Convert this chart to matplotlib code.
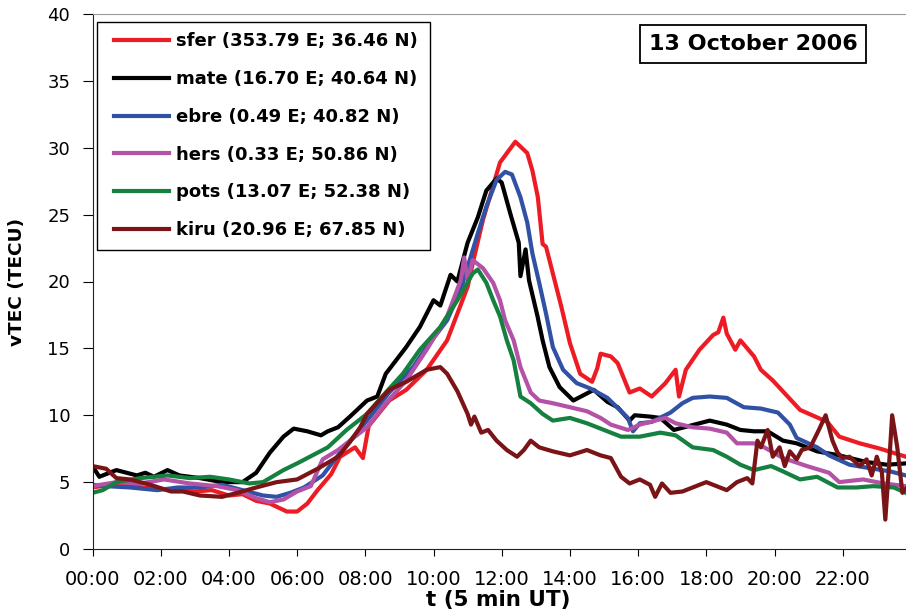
import numpy as np
import matplotlib
matplotlib.use('Agg')
import matplotlib.pyplot as plt
from matplotlib.patches import Rectangle

plt.rcParams['font.family'] = ['DejaVu Sans']

# time in hours UT, vTEC in TECU
sfer_t = [0, 0.5, 1, 1.5, 2, 2.5, 3, 3.5, 4, 4.4, 4.8, 5.2, 5.7, 6.0, 6.3, 6.6, 7.0, 7.26, 7.7, 7.93,
          8.1, 8.7, 9.2, 9.8, 10.4, 11.0, 11.2, 11.45, 11.95, 12.4, 12.75, 12.9, 13.06, 13.2, 13.3, 13.5,
          13.75, 14.0, 14.3, 14.65, 14.8, 14.9, 15.2, 15.4, 15.75, 16.05, 16.4, 16.8, 17.1, 17.2, 17.4,
          17.8, 18.2, 18.35, 18.5, 18.6, 18.85, 19.0, 19.4, 19.6, 19.95, 20.75, 21.55, 21.9, 22.5, 23.1, 23.85]
sfer = [4.6, 4.8, 4.7, 4.6, 4.5, 4.4, 4.3, 4.4, 4.0, 4.1, 3.6, 3.4, 2.8, 2.8, 3.4, 4.4, 5.6, 6.9, 7.6, 6.8,
        9.2, 11.1, 11.9, 13.4, 15.6, 19.6, 21.9, 24.6, 28.9, 30.45, 29.6, 28.3, 26.3, 22.8, 22.6, 20.6,
        18.1, 15.4, 13.1, 12.5, 13.5, 14.6, 14.4, 13.9, 11.7, 12.0, 11.4, 12.4, 13.4, 11.4, 13.4,
        14.9, 16.0, 16.2, 17.3, 16.1, 14.9, 15.6, 14.4, 13.4, 12.6, 10.4, 9.5, 8.4, 7.9, 7.5, 6.9]

mate_t = [0, 0.2, 0.7, 1.3, 1.55, 1.8, 2.2, 2.55, 3.15, 3.8, 4.4, 4.8, 5.2, 5.6, 5.9, 6.3, 6.7, 6.9, 7.2,
          7.55, 8.05, 8.35, 8.6, 9.2, 9.6, 9.9, 10.0, 10.2, 10.5, 10.7, 11.0, 11.3, 11.55, 11.85, 12.0,
          12.25, 12.5, 12.55, 12.7, 12.8, 13.05, 13.2, 13.4, 13.7, 14.1, 14.4, 14.7, 15.1, 15.4, 15.75,
          15.9, 16.35, 16.65, 17.05, 17.5, 18.1, 18.6, 19.0, 19.4, 19.8, 20.25, 20.65, 21.25, 21.9, 22.7,
          23.3, 23.85]
mate = [6.2, 5.4, 5.9, 5.5, 5.7, 5.4, 5.9, 5.5, 5.3, 5.0, 5.0, 5.7, 7.2, 8.4, 9.0, 8.8, 8.5, 8.8, 9.1,
        9.9, 11.1, 11.4, 13.1, 15.1, 16.6, 18.1, 18.6, 18.2, 20.5, 20.0, 22.9, 24.8, 26.8, 27.7, 27.4,
        25.1, 22.9, 20.4, 22.4, 20.1, 17.4, 15.6, 13.6, 12.1, 11.1, 11.5, 11.9, 11.0, 10.6, 9.6,
        10.0, 9.9, 9.8, 8.9, 9.2, 9.6, 9.3, 8.9, 8.8, 8.8, 8.1, 7.9, 7.3, 7.0, 6.5,
        6.3, 6.4]

ebre_t = [0, 0.4, 1.1, 1.9, 2.5, 3.15, 3.8, 4.4, 5.0, 5.4, 5.8, 6.2, 6.75, 7.26, 8.05, 8.7, 9.4, 9.8,
          10.4, 10.8, 11.3, 11.55, 11.85, 12.1, 12.3, 12.55, 12.75, 12.9, 13.1, 13.3, 13.5, 13.8, 14.2,
          14.6, 15.1, 15.5, 15.7, 15.85, 16.05, 16.4, 16.95, 17.3, 17.6, 18.1, 18.6, 19.1, 19.6, 20.1,
          20.45, 20.65, 21.25, 21.6, 22.2, 22.9, 23.4, 23.85]
ebre = [4.8, 4.7, 4.6, 4.4, 4.6, 4.6, 4.8, 4.4, 4.0, 3.9, 4.2, 4.6, 5.5, 7.2, 9.6, 11.7, 13.6, 15.1,
        17.1, 19.4, 23.6, 25.6, 27.6, 28.2, 28.0, 26.3, 24.4, 22.1, 19.9, 17.6, 15.1, 13.4, 12.4,
        12.0, 11.3, 10.3, 9.8, 8.8, 9.4, 9.5, 10.2, 10.9, 11.3, 11.4, 11.3, 10.6, 10.5, 10.2,
        9.3, 8.3, 7.6, 7.0, 6.3, 6.0, 5.8, 5.5]

hers_t = [0, 0.7, 1.4, 2.1, 2.85, 3.65, 4.25, 4.8, 5.2, 5.6, 6.0, 6.4, 6.75, 7.2, 7.55, 8.05, 8.6, 9.2,
          9.8, 10.4, 10.8, 10.9, 11.0, 11.15, 11.45, 11.75, 11.95, 12.1, 12.35, 12.55, 12.85, 13.1, 13.5,
          14.0, 14.5, 14.9, 15.2, 15.7, 15.8, 16.05, 16.35, 16.8, 17.1, 17.6, 18.1, 18.6, 18.9, 19.4,
          19.7, 20.25, 20.95, 21.6, 21.9, 22.6, 23.2, 23.85]
hers = [4.7, 5.0, 4.9, 5.2, 4.9, 4.7, 4.4, 3.8, 3.5, 3.7, 4.3, 4.7, 6.7, 7.4, 8.1, 9.1, 10.9, 12.6,
        14.9, 17.4, 20.1, 21.8, 20.1, 21.6, 21.0, 19.9, 18.6, 17.1, 15.6, 13.6, 11.7, 11.1, 10.9,
        10.6, 10.3, 9.8, 9.3, 8.9, 9.0, 9.3, 9.5, 9.8, 9.4, 9.1, 9.0, 8.7, 7.9, 7.9,
        7.6, 6.8, 6.2, 5.7, 5.0, 5.2, 4.9, 4.7]

pots_t = [0, 0.3, 0.7, 1.4, 2.2, 2.85, 3.45, 4.0, 4.6, 5.0, 5.6, 6.0, 6.6, 6.9, 7.45, 8.05, 8.6, 9.1,
          9.6, 10.2, 10.7, 11.15, 11.3, 11.55, 11.75, 11.95, 12.15, 12.35, 12.55, 12.85, 13.2, 13.5,
          14.0, 14.5, 15.0, 15.5, 16.05, 16.65, 17.1, 17.6, 18.2, 18.6, 19.0, 19.4, 19.9, 20.25,
          20.75, 21.25, 21.85, 22.4, 22.9, 23.5, 23.85]
pots = [4.2, 4.4, 5.0, 5.3, 5.5, 5.3, 5.4, 5.2, 4.9, 5.0, 5.9, 6.4, 7.2, 7.6, 8.9, 10.1, 11.7, 13.1,
        14.9, 16.6, 18.6, 20.6, 20.9, 19.9, 18.6, 17.4, 15.6, 14.1, 11.4, 10.9, 10.1, 9.6,
        9.8, 9.4, 8.9, 8.4, 8.4, 8.7, 8.5, 7.6, 7.4, 6.9, 6.3, 5.9, 6.2, 5.8,
        5.2, 5.4, 4.6, 4.6, 4.7, 4.6, 4.2]

kiru_t = [0, 0.4, 0.7, 1.1, 1.7, 2.3, 2.65, 3.15, 3.8, 4.25, 4.8, 5.4, 6.0, 6.6, 7.2, 7.55, 7.85, 8.05,
          8.7, 9.2, 9.8, 10.2, 10.4, 10.7, 11.0, 11.1, 11.2, 11.4, 11.6, 11.85, 12.15, 12.45, 12.65,
          12.85, 13.1, 13.5, 14.0, 14.5, 14.9, 15.2, 15.5, 15.75, 16.05, 16.35, 16.5, 16.7, 16.95,
          17.3, 17.6, 18.0, 18.3, 18.6, 18.9, 19.2, 19.35, 19.5, 19.6, 19.8, 19.95, 20.15, 20.3,
          20.45, 20.65, 20.8, 21.05, 21.3, 21.5, 21.7, 21.85, 22.0, 22.2, 22.5, 22.7, 22.85, 23.0,
          23.15, 23.25, 23.35, 23.45, 23.6, 23.75, 23.85]
kiru = [6.2, 6.0, 5.3, 5.2, 4.8, 4.3, 4.3, 4.0, 3.9, 4.2, 4.6, 5.0, 5.2, 6.0, 6.9, 8.0, 9.1, 10.1,
        11.9, 12.5, 13.4, 13.6, 13.1, 11.8, 10.1, 9.3, 9.9, 8.7, 8.9, 8.1, 7.4, 6.9, 7.4,
        8.1, 7.6, 7.3, 7.0, 7.4, 7.0, 6.8, 5.4, 4.9, 5.2, 4.8, 3.9, 4.9, 4.2,
        4.3, 4.6, 5.0, 4.7, 4.4, 5.0, 5.3, 4.9, 8.1, 7.6, 8.9, 6.9, 7.6, 6.2,
        7.3, 6.7, 7.4, 7.6, 8.9, 10.0, 8.1, 7.2, 6.8, 6.9, 6.2, 6.7, 5.5, 6.9,
        5.7, 2.2, 5.9, 10.0, 7.6, 4.2, 4.5]

labels = ['sfer (353.79 E; 36.46 N)', 'mate (16.70 E; 40.64 N)', 'ebre (0.49 E; 40.82 N)',
          'hers (0.33 E; 50.86 N)', 'pots (13.07 E; 52.38 N)', 'kiru (20.96 E; 67.85 N)']
colors = ['#ED1C24', '#000000', '#3152A4', '#B452A8', '#168040', '#7A1416']

xticks = list(range(0, 24, 2))
xticklabels = ['%02d:00' % h for h in xticks]

W, H = 906, 612
fig = plt.figure(figsize=(9.06, 6.12), dpi=100)
ax = fig.add_axes([92.5/W, 1 - 549/H, (W - 92.5)/W, 535/H])

series = [(sfer_t, sfer), (mate_t, mate), (ebre_t, ebre), (hers_t, hers), (pots_t, pots), (kiru_t, kiru)]
for (t, v), lab, c in zip(series, labels, colors):
    ax.plot(t, v, color=c, lw=3.0, label=lab, solid_joinstyle='round')

ax.set_xlim(0, (W - 92.5) / 34.1)
ax.set_ylim(0, 40)
ax.set_yticks(range(0, 41, 5))
ax.set_xticks(xticks)
ax.set_xticklabels(xticklabels)
ax.tick_params(axis='y', labelsize=13, length=7, direction='out', pad=9)
ax.tick_params(axis='x', labelsize=14, length=5, direction='out', pad=10)
ax.spines['right'].set_visible(False)
ax.spines['top'].set_color('#999999')
ax.spines['left'].set_color('#222222')
ax.spines['bottom'].set_color('#222222')

ax.set_xlabel('t (5 min UT)', fontsize=15.5, fontweight='bold')
ax.xaxis.set_label_coords((498 - 92.5) / 813.5, -(590 - 549) / 535)
ax.set_ylabel('vTEC (TECU)', fontsize=13.3, fontweight='bold')
ax.yaxis.set_label_coords(-(92.5 - 26) / 813.5, 0.5)

# legend box drawn separately so the padding matches the original
ax.add_patch(Rectangle((97/W, 1 - 250/H), (430 - 97)/W, (250 - 22)/H, transform=fig.transFigure,
                       fc='white', ec='black', lw=1.0, zorder=4, clip_on=False))
leg = ax.legend(loc='upper left', bbox_to_anchor=(114/W, 1 - 32.5/H), bbox_transform=fig.transFigure,
                borderaxespad=0, frameon=False, prop={'weight': 'bold', 'size': 13},
                handlelength=3.05, handletextpad=0.4, labelspacing=1.09, borderpad=0)
leg.set_zorder(6)

ax.add_patch(Rectangle((640/W, 1 - 63/H), (866 - 640)/W, (63 - 25)/H, transform=fig.transFigure,
                       fc='white', ec='black', lw=1.3, zorder=4, clip_on=False))
fig.text(753/W, 1 - 44/H, '13 October 2006', fontsize=16, fontweight='bold',
         ha='center', va='center', zorder=6)

plt.savefig('out.png', dpi=100)
